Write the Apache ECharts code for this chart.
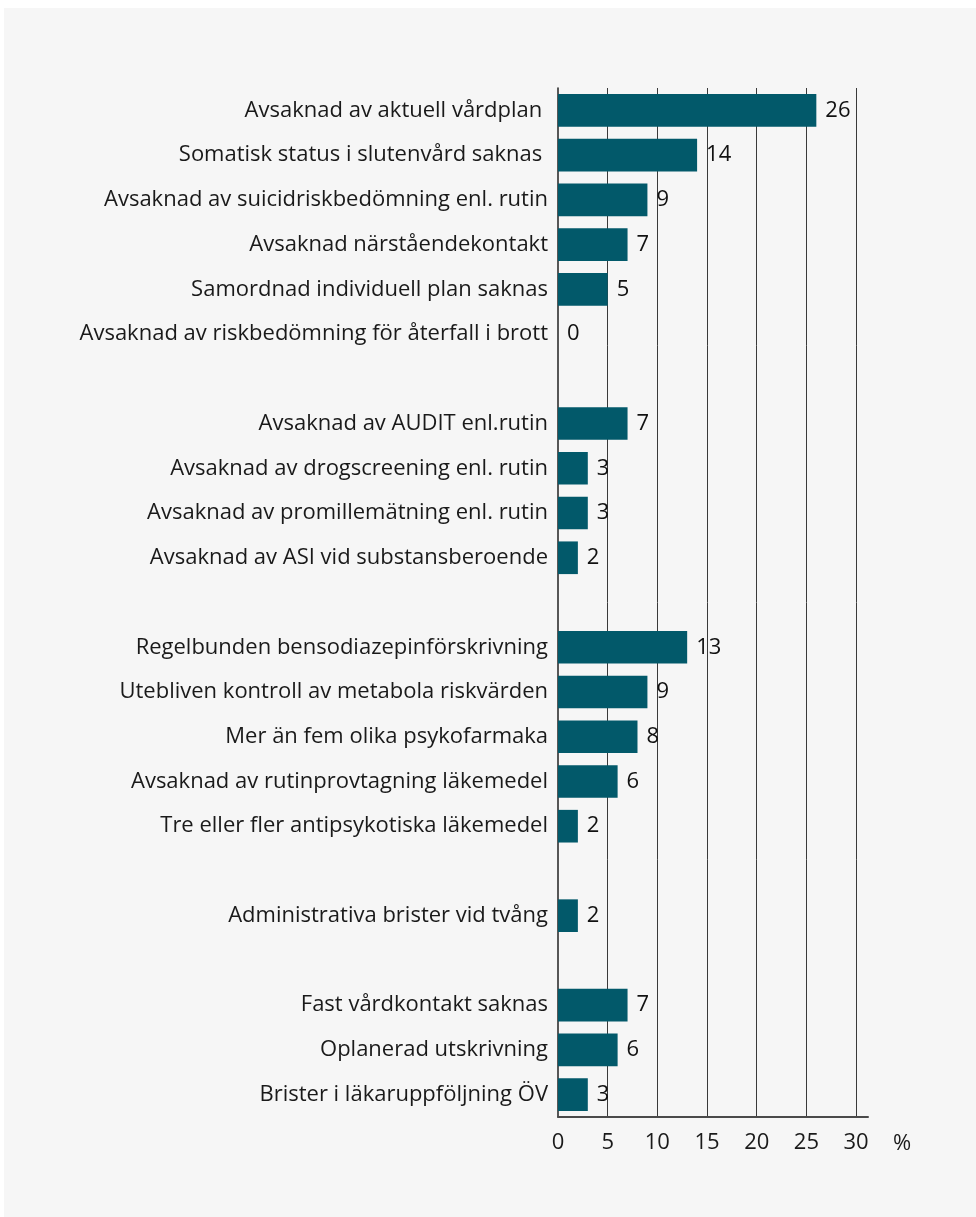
<!DOCTYPE html>
<html>
<head>
<meta charset="utf-8">
<script src="https://cdn.jsdelivr.net/npm/echarts@6/dist/echarts.min.js"></script>
<style>
  html, body { margin: 0; padding: 0; background: #ffffff; }
  #bg { position: absolute; left: 4px; top: 8px; width: 972px; height: 1209px; background: #f6f6f6; }
  #chart { position: absolute; left: 0; top: 0; width: 976px; height: 1217px; }
</style>
</head>
<body>
<div id="bg"></div>
<div id="chart"></div>
<script>
// Categories top to bottom; blank entries are spacer rows between groups
const categories = [
  'Avsaknad av aktuell vårdplan ',
  'Somatisk status i slutenvård saknas ',
  'Avsaknad av suicidriskbedömning enl. rutin',
  'Avsaknad närståendekontakt',
  'Samordnad individuell plan saknas',
  'Avsaknad av riskbedömning för återfall i brott',
  ' ',
  'Avsaknad av AUDIT enl.rutin',
  'Avsaknad av drogscreening enl. rutin',
  'Avsaknad av promillemätning enl. rutin',
  'Avsaknad av ASI vid substansberoende',
  '  ',
  'Regelbunden bensodiazepinförskrivning',
  'Utebliven kontroll av metabola riskvärden',
  'Mer än fem olika psykofarmaka',
  'Avsaknad av rutinprovtagning läkemedel',
  'Tre eller fler antipsykotiska läkemedel',
  '   ',
  'Administrativa brister vid tvång',
  '    ',
  'Fast vårdkontakt saknas',
  'Oplanerad utskrivning',
  'Brister i läkaruppföljning ÖV'
];
const values = [26, 14, 9, 7, 5, 0, null, 7, 3, 3, 2, null, 13, 9, 8, 6, 2, null, 2, null, 7, 6, 3];
const axisUnit = '%';

const FONT = 'Open Sans';
const FS = 22;
const chart = echarts.init(document.getElementById('chart'), null, { renderer: 'canvas' });
chart.setOption({
  backgroundColor: 'transparent',
  animation: false,
  grid: { left: 558, right: 108, top: 88, bottom: 100, containLabel: false },
  xAxis: {
    type: 'value',
    min: 0,
    max: 31.2,
    interval: 5,
    name: axisUnit,
    nameLocation: 'end',
    nameGap: 25,
    nameTextStyle: { fontFamily: FONT, fontSize: FS, color: '#1a1a1a', verticalAlign: 'top', padding: [16, 0, 0, 0] },
    axisLine: { show: true, lineStyle: { color: '#4a4a4a', width: 2 } },
    axisTick: { show: false },
    axisLabel: { fontFamily: FONT, fontSize: FS, color: '#1a1a1a', margin: 15, showMaxLabel: false },
    splitLine: { show: true, showMinLine: false, showMaxLine: false, lineStyle: { color: '#3a3a3a', width: 1 } }
  },
  yAxis: {
    type: 'category',
    inverse: true,
    data: categories,
    axisLine: { show: true, lineStyle: { color: '#222', width: 1.5 } },
    axisTick: { show: false },
    axisLabel: { fontFamily: FONT, fontSize: FS, color: '#1a1a1a', margin: 10 },
    splitLine: { show: false }
  },
  series: [{
    type: 'bar',
    data: values,
    barCategoryGap: '27%',
    itemStyle: { color: '#02596a' },
    label: {
      show: true,
      position: 'right',
      distance: 9,
      fontFamily: FONT,
      fontSize: FS,
      color: '#111',
      formatter: p => (p.value === null || p.value === undefined) ? '' : String(p.value)
    }
  }]
});
</script>
</body>
</html>
